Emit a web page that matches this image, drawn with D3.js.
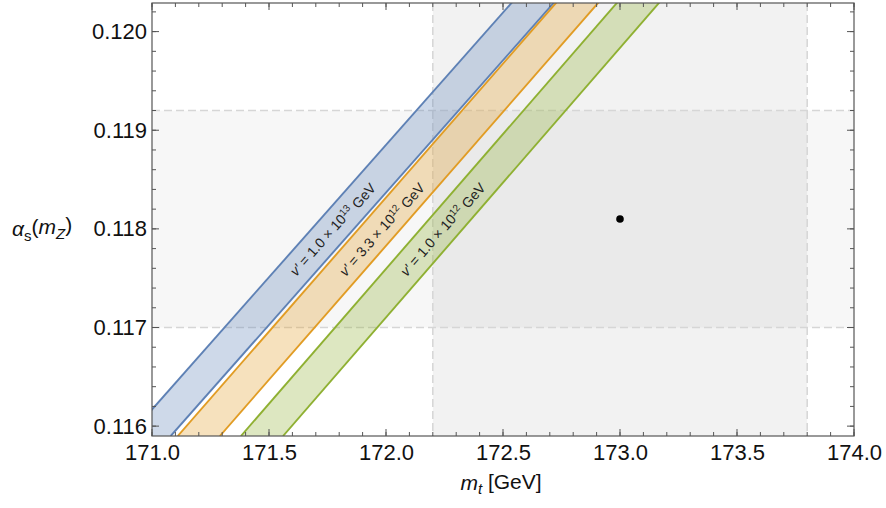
<!DOCTYPE html>
<html>
<head>
<meta charset="utf-8">
<script src="https://cdn.jsdelivr.net/npm/d3@7"></script>
<style>
  body { margin: 0; background: #fff; }
  text { font-family: "Liberation Sans", Arial, sans-serif; fill: #111; }
  .tick text { font-size: 22px; }
</style>
</head>
<body>
<svg width="886" height="508"></svg>
<script>
const svg = d3.select("svg"),
    margin = {top: 3, right: 32, bottom: 72, left: 152},
    width = 854 - margin.left,
    height = 436 - margin.top,
    g = svg.append("g").attr("transform", "translate(" + margin.left + "," + margin.top + ")");

// axis ranges and ticks
const xDomain = [171, 174];
const yDomain = [0.1159, 0.12029];
const xTicks = [171.0, 171.5, 172.0, 172.5, 173.0, 173.5, 174.0];
const yTicks = [0.116, 0.117, 0.118, 0.119, 0.120];

// experimental point and 1-sigma bands
const mtCentral = 173.0, mtRange = [172.2, 173.8];
const asCentral = 0.1181, asRange = [0.1170, 0.1192];

// each band: lower edge and upper edge, as two (mt, alpha_s) points
const bandNames = ["1.0 × 10|13", "3.3 × 10|12", "1.0 × 10|12"];
const bandColours = ["#5e81b5", "#e19c24", "#8fb032"];
const bandLeft = [[[170.90, 0.1159], [172.54, 0.1203]],
                  [[171.11, 0.1159], [172.73, 0.1203]],
                  [[171.38, 0.1159], [172.99, 0.1203]]];
const bandRight = [[[171.08, 0.1159], [172.72, 0.1203]],
                   [[171.29, 0.1159], [172.91, 0.1203]],
                   [[171.56, 0.1159], [173.17, 0.1203]]];
const labelPos = [[171.77, 0.1180], [171.98, 0.1180], [172.24, 0.1180]];

const xScale = d3.scaleLinear().domain(xDomain).range([0, width]),
    yScale = d3.scaleLinear().domain(yDomain).range([height, 0]);

g.append("clipPath").attr("id", "clip")
  .append("rect").attr("width", width).attr("height", height);

const plot = g.append("g").attr("clip-path", "url(#clip)");

// Gray uncertainty regions
plot.append("rect")
    .attr("x", 0).attr("width", width)
    .attr("y", yScale(asRange[1])).attr("height", yScale(asRange[0]) - yScale(asRange[1]))
    .style("fill", "#000").style("fill-opacity", 0.03);
plot.append("rect")
    .attr("x", xScale(mtRange[0])).attr("width", xScale(mtRange[1]) - xScale(mtRange[0]))
    .attr("y", 0).attr("height", height)
    .style("fill", "#000").style("fill-opacity", 0.05);

const dash = {stroke: "#d6d6d6", "stroke-width": 1.5, "stroke-dasharray": "8,4"};
function dashed(x1, y1, x2, y2) {
  const l = plot.append("line").attr("x1", x1).attr("y1", y1).attr("x2", x2).attr("y2", y2);
  Object.entries(dash).forEach(([k, v]) => l.style(k, v));
}
asRange.forEach(a => dashed(0, yScale(a), width, yScale(a)));
mtRange.forEach(m => dashed(xScale(m), 0, xScale(m), height));

// Draws the diagonal bands
const line = d3.line().x(d => xScale(d[0])).y(d => yScale(d[1]));
bandNames.forEach(function(name, i) {
  const poly = bandLeft[i].concat(bandRight[i].slice().reverse());
  plot.append("path")
      .attr("d", line(poly) + "Z")
      .style("fill", bandColours[i]).style("fill-opacity", 0.3).style("stroke", "none");
  [bandLeft[i], bandRight[i]].forEach(function(edge) {
    plot.append("path")
        .attr("d", line(edge))
        .style("fill", "none").style("stroke", bandColours[i]).style("stroke-width", 1.9);
  });
});

// Labels along the bands
bandNames.forEach(function(name, i) {
  const e = bandLeft[i],
      angle = Math.atan2(yScale(e[1][1]) - yScale(e[0][1]), xScale(e[1][0]) - xScale(e[0][0])) * 180 / Math.PI,
      parts = name.split("|");
  const t = plot.append("text")
      .attr("transform", "translate(" + xScale(labelPos[i][0]) + "," + yScale(labelPos[i][1]) + ") rotate(" + angle + ")")
      .attr("dy", "0.35em")
      .style("text-anchor", "middle")
      .style("font-size", "14px")
      .style("fill", "#222");
  t.append("tspan").style("font-style", "italic").text("v′");
  t.append("tspan").text(" = " + parts[0]);
  t.append("tspan").attr("dy", "-0.45em").style("font-size", "10px").text(parts[1]);
  t.append("tspan").attr("dy", "0.45em").text(" GeV");
});

// Central value
plot.append("circle")
    .attr("cx", xScale(mtCentral)).attr("cy", yScale(asCentral))
    .attr("r", 3.8).style("fill", "#000");

// Frame with ticks on all sides
const xMinor = d3.range(171, 174.001, 0.1),
    yMinor = d3.range(0.1160, 0.12021, 0.0002);
const frameCol = "#555";

function ticks(vals, major, isX) {
  vals.forEach(function(v) {
    const len = major ? 7 : 4;
    if (isX) {
      const x = xScale(v);
      g.append("line").attr("x1", x).attr("x2", x).attr("y1", height).attr("y2", height - len).style("stroke", frameCol);
      g.append("line").attr("x1", x).attr("x2", x).attr("y1", 0).attr("y2", len).style("stroke", frameCol);
    } else {
      const y = yScale(v);
      g.append("line").attr("y1", y).attr("y2", y).attr("x1", 0).attr("x2", len).style("stroke", frameCol);
      g.append("line").attr("y1", y).attr("y2", y).attr("x1", width).attr("x2", width - len).style("stroke", frameCol);
    }
  });
}
ticks(xMinor, false, true);
ticks(xTicks, true, true);
ticks(yMinor, false, false);
ticks(yTicks, true, false);

g.append("rect").attr("width", width).attr("height", height)
    .style("fill", "none").style("stroke", frameCol).style("stroke-width", 1.2);

// Tick labels via D3 axes (no tick lines)
g.append("g")
    .attr("class", "axis")
    .attr("transform", "translate(0," + height + ")")
    .call(d3.axisBottom(xScale).tickValues(xTicks).tickFormat(d3.format(".1f")).tickSize(0).tickPadding(8))
    .call(a => a.select(".domain").remove());

g.append("g")
    .attr("class", "axis")
    .call(d3.axisLeft(yScale).tickValues(yTicks).tickFormat(d3.format(".3f")).tickSize(0).tickPadding(5))
    .call(a => a.select(".domain").remove());

svg.selectAll(".tick text").style("fill", "#111").style("font-family", "\"Liberation Sans\", Arial, sans-serif");

// Axis titles
const xt = svg.append("text")
    .attr("x", 501).attr("y", 490)
    .style("text-anchor", "middle").style("font-size", "21px");
xt.append("tspan").style("font-style", "italic").text("m");
xt.append("tspan").attr("dy", "0.25em").style("font-size", "15px").style("font-style", "italic").text("t");
xt.append("tspan").attr("dy", "-0.25em").text(" [GeV]");

const yt = svg.append("text")
    .attr("x", 12).attr("y", 236)
    .style("font-size", "21px");
yt.append("tspan").style("font-style", "italic").text("α");
yt.append("tspan").attr("dy", "0.3em").style("font-size", "15px").text("s");
yt.append("tspan").attr("dy", "-0.3em").text("(");
yt.append("tspan").style("font-style", "italic").text("m");
yt.append("tspan").attr("dy", "0.3em").style("font-size", "15px").style("font-style", "italic").text("Z");
yt.append("tspan").attr("dy", "-0.3em").text(")");
</script>
</body>
</html>
